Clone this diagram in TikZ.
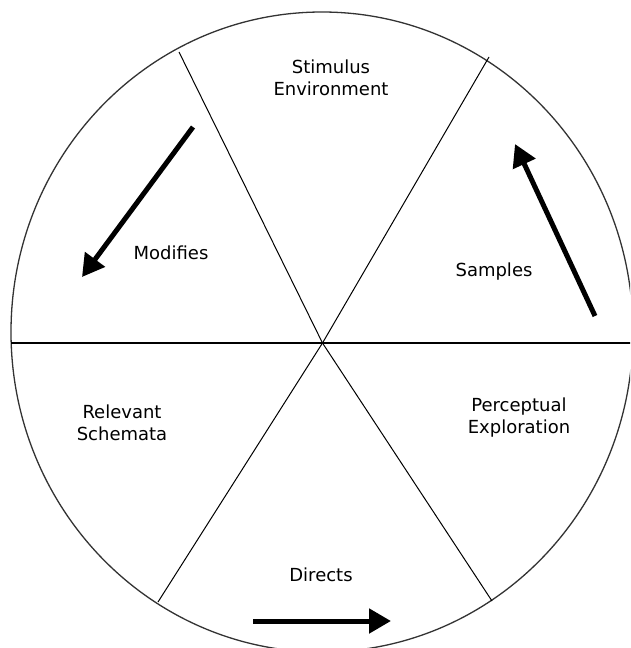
\documentclass[tikz,border=0pt]{standalone}
\usepackage{fontspec}
\setmainfont{DejaVu Sans}
\usetikzlibrary{arrows.meta}
\begin{document}
\begin{tikzpicture}[x=1pt,y=-1pt,
  rim/.style={line width=1.3pt,draw=black!80},
  spoke/.style={line width=1pt,draw=black},
  flow/.style={line width=5pt,-{Triangle[length=22pt,width=24pt]}},
  lbl/.style={font=\fontsize{18}{22}\selectfont,align=center,text=black}]
\useasboundingbox (0,0) rectangle (630,648);
\clip (0,0) rectangle (630,648);
\fill[white] (0,0) rectangle (630,648);
% outer ring
\draw[rim] (322,332) ellipse [x radius=311, y radius=320];
% hub and ends of the spokes on the ring
\coordinate (hub) at (322.5,343);
\coordinate (w) at (11,343);
\coordinate (e) at (634,343);
\coordinate (nw) at (179,52);
\coordinate (ne) at (489,57);
\coordinate (sw) at (158,602);
\coordinate (se) at (492,601);
\draw[line width=1.4pt] (w) -- (e);
\draw[spoke] (nw) -- (hub) -- (se);
\draw[spoke] (ne) -- (hub) -- (sw);
% sector labels
\node[lbl] (env) at (331,78) {Stimulus\\Environment};
\node[lbl] (mod) at (171,253) {Modifies};
\node[lbl] (smp) at (494,272) {Samples};
\node[lbl] (sch) at (122,423) {Relevant\\Schemata};
\node[lbl] (exp) at (519,418) {Perceptual\\Exploration};
\node[lbl] (dir) at (321,575) {Directs};
% cycle arrows
\coordinate (m1) at (193,127);
\coordinate (m2) at (82,277);
\coordinate (s1) at (595,316);
\coordinate (s2) at (515,144);
\coordinate (d1) at (253,621);
\coordinate (d2) at (391,621);
\draw[flow] (m1) -- (m2);
\draw[flow] (s1) -- (s2);
\draw[flow] (d1) -- (d2);
\end{tikzpicture}
\end{document}
